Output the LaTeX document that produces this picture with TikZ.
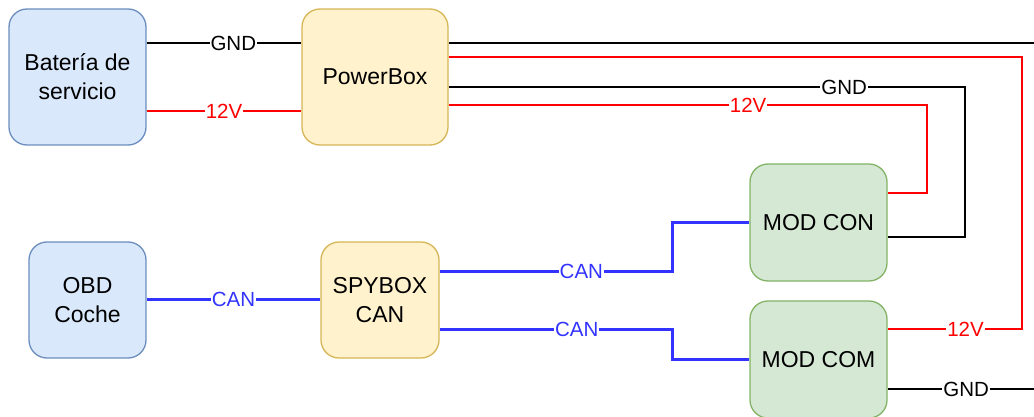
\documentclass[tikz,border=0pt]{standalone}
\usepackage{fontspec}
\setmainfont{Liberation Sans}
\definecolor{bluefill}{HTML}{DAE8FC}
\definecolor{bluedraw}{HTML}{6C8EBF}
\definecolor{yellowfill}{HTML}{FFF2CC}
\definecolor{yellowdraw}{HTML}{D6B656}
\definecolor{greenfill}{HTML}{D5E8D4}
\definecolor{greendraw}{HTML}{82B366}
\definecolor{canblue}{HTML}{3333FF}
\definecolor{wirered}{HTML}{FF0000}
\newcommand{\boxfont}{\fontsize{23}{29}\selectfont}
\newcommand{\lblfont}{\fontsize{20.5}{24}\selectfont}
\tikzset{
  unit/.style={draw, line width=1.3pt, rounded corners=18pt, align=center,
    font=\boxfont, inner sep=0pt},
  battery/.style={unit, fill=bluefill, draw=bluedraw},
  supply/.style={unit, fill=yellowfill, draw=yellowdraw},
  module/.style={unit, fill=greenfill, draw=greendraw},
  gndwire/.style={draw=black, line width=1.6pt},
  vwire/.style={draw=wirered, line width=1.6pt},
  canwire/.style={draw=canblue, line width=3pt},
  lbl/.style={fill=white, inner sep=1pt, font=\lblfont},
}
\begin{document}
\begin{tikzpicture}[x=1pt, y=-1pt]
\useasboundingbox (0,0) rectangle (1034,417);

% units
\node[battery, minimum width=137pt, minimum height=136pt] (bat) at (77.5,77) {Batería de\\servicio};
\node[supply, minimum width=146pt, minimum height=136pt] (pb) at (375,77) {PowerBox};
\node[battery, minimum width=117pt, minimum height=116pt] (obd) at (87.5,300) {OBD\\Coche};
\node[supply, minimum width=118pt, minimum height=116pt] (spy) at (380,300) {SPYBOX\\CAN};
\node[module, minimum width=137pt, minimum height=117pt] (mcon) at (818.5,222.5) {MOD CON};
\node[module, minimum width=137pt, minimum height=117pt] (mcom) at (818.5,359.5) {MOD COM};

% free ends at the right border
\coordinate (outgnd) at (1034,43);
\coordinate (outcom) at (1034,389);

% battery to PowerBox
\draw[gndwire] (bat.east |- 0,43) -- node[lbl, pos=0.56] {GND} (pb.west |- 0,43);
\draw[vwire] (bat.east |- 0,111) -- node[lbl, text=wirered, pos=0.5] {12V} (pb.west |- 0,111);

% PowerBox outputs
\draw[gndwire] (pb.east |- outgnd) -- (outgnd);
\draw[vwire] (pb.east |- 0,57) -| (1022,329) -- node[lbl, text=wirered, pos=0.42] {12V} (mcom.east |- 0,329);
\draw[gndwire] (pb.east |- 0,87) -- node[lbl, pos=0.766] {GND} (965,87) |- (mcon.east |- 0,237);
\draw[vwire] (pb.east |- 0,105) -- node[lbl, text=wirered, pos=0.626] {12V} (927,105) |- (mcon.east |- 0,193);

% MOD COM ground
\draw[gndwire] (mcom.east |- outcom) -- node[lbl, pos=0.537] {GND} (outcom);

% CAN bus
\draw[canwire] (obd.east |- 0,299.5) -- node[lbl, text=canblue, pos=0.5] {CAN} (spy.west |- 0,299.5);
\draw[canwire] (spy.east |- 0,271) -- node[lbl, text=canblue, pos=0.61] {CAN} (672,271) |- (mcon.west |- 0,222);
\draw[canwire] (spy.east |- 0,329) -- node[lbl, text=canblue, pos=0.59] {CAN} (672,329) |- (mcom.west |- 0,359);
\end{tikzpicture}
\end{document}
